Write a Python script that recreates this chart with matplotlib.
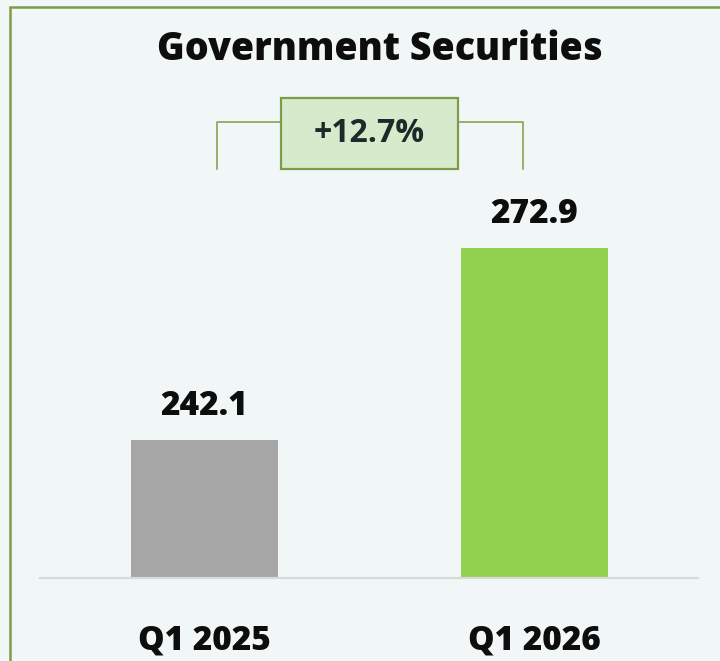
import matplotlib.pyplot as plt
from matplotlib.patches import Rectangle
from matplotlib.transforms import blended_transform_factory

plt.rcParams["font.family"] = ["Open Sans", "DejaVu Sans"]

# data
periods = ["Q1 2025", "Q1 2026"]
values = [242.1, 272.9]
bar_colors = ["#a6a6a6", "#92d050"]
title = "Government Securities"

change = (values[1] / values[0] - 1) * 100

bg = "#f1f7f7"
frame_col = "#7e9c47"
text_col = "#0d0d0d"

fig = plt.figure(figsize=(7.2, 6.61), dpi=100, facecolor=bg)
# axes bottom sits on the baseline, bars start at 220
ax = fig.add_axes([0, 83 / 661, 1, 578 / 661])
ax.set_facecolor("none")
ax.set_xlim(-204.5 / 330, (720 - 204.5) / 330)
ax.set_ylim(220, 220 + 578 / 6.23)
ax.axis("off")

# outer frame (runs off the right and bottom edges)
fig.patches.append(Rectangle((10 / 720, -0.1), 1.0, 1 - 7 / 661 + 0.1,
                             transform=fig.transFigure, fill=False,
                             edgecolor=frame_col, linewidth=1.8))

x = list(range(len(values)))
ax.bar(x, [v - 220 for v in values], bottom=220, width=147 / 330,
       color=bar_colors, zorder=2)

# baseline
ax.axhline(220, xmin=40 / 720, xmax=698 / 720, color="#d9d9d9", lw=1.6,
           zorder=3, clip_on=False)

for xi, v, lab in zip(x, values, periods):
    ax.annotate(f"{v:.1f}", (xi, v), xytext=(0, 25), textcoords="offset points",
                ha="center", va="center", fontsize=24, fontweight="heavy",
                color=text_col)
    ax.annotate(lab, (xi, 220), xytext=(0, -45), textcoords="offset points",
                ha="center", va="center", fontsize=24, fontweight="heavy",
                color=text_col, annotation_clip=False)

# growth bracket
tr = blended_transform_factory(ax.transData, ax.transAxes)
y_top, y_bot = (578 - 122) / 578, (578 - 169) / 578
ax.plot([x[0] + 0.038, x[0] + 0.038, x[1] - 0.035, x[1] - 0.035],
        [y_bot, y_top, y_top, y_bot], color=frame_col, lw=1.1,
        transform=tr, clip_on=False)
box_w = 177 / 330
ax.add_patch(Rectangle((0.5 - box_w / 2, y_bot), box_w, (169 - 98) / 578,
                       transform=tr, facecolor="#d5ebcc", edgecolor=frame_col,
                       linewidth=1.6, zorder=4, clip_on=False))
ax.text(0.5, (y_bot + (578 - 98) / 578) / 2, f"+{change:.1f}%", transform=tr,
        ha="center", va="center", fontsize=23, fontweight="bold",
        color="#1c2a2a", zorder=5)

fig.text(380 / 720, 1 - 50 / 661, title, ha="center", va="center",
         fontsize=27, fontweight="heavy", color=text_col)

fig.savefig("out.png", dpi=100, facecolor=bg)
